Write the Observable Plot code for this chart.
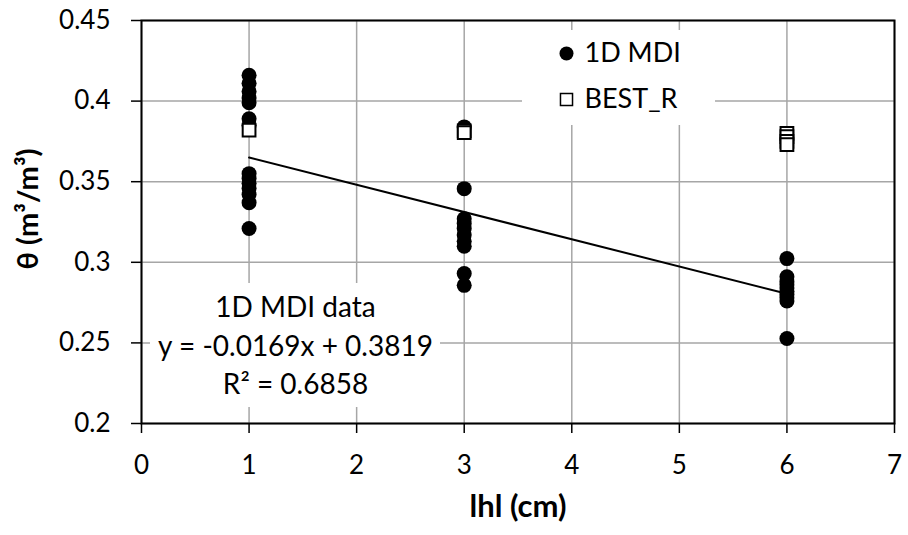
<!DOCTYPE html>
<html>
<head>
<meta charset="utf-8">
<script src="https://cdn.jsdelivr.net/npm/d3@7"></script>
<script src="https://cdn.jsdelivr.net/npm/@observablehq/plot@0.6"></script>
<style>
  html, body { margin: 0; padding: 0; background: #fff; }
  #chart { width: 908px; height: 535px; }
</style>
</head>
<body>
<div id="chart"></div>
<script>
// ---- data ----
const mdiX = [1,1,1,1,1,1,1,1,1,1,1,1,1,1,
              3,3,3,3,3,3,3,3,3,3,
              6,6,6,6,6,6,6,6,6,6];
const mdiY = [0.416,0.411,0.406,0.402,0.399,0.389,0.385,0.355,0.352,0.349,0.346,0.342,0.337,0.321,
              0.384,0.3457,0.327,0.324,0.321,0.317,0.313,0.310,0.293,0.2857,
              0.3023,0.291,0.288,0.286,0.284,0.282,0.280,0.278,0.276,0.2527];
const bestX = [1,3,3,6,6,6,6];
const bestY = [0.382,0.3815,0.3805,0.380,0.378,0.375,0.373];
const trendSlope = -0.0169;
const trendIntercept = 0.3819;
const trendRange = [1, 6];
const xTicks = [0,1,2,3,4,5,6,7];
const yTicks = [0.2,0.25,0.3,0.35,0.4,0.45];
const xTitle = "lhl (cm)";
const yTitle = "θ (m³/m³)";
const legendLabels = ["1D MDI", "BEST_R"];
const annotLines = ["1D MDI data", "y = -0.0169x + 0.3819", "R² = 0.6858"];

const mdi = mdiX.map((x, i) => ({x, y: mdiY[i]}));
const best = bestX.map((x, i) => ({x, y: bestY[i]}));
const trend = trendRange.map(x => ({x, y: trendIntercept + trendSlope * x}));

const FONT = "Lato, 'Open Sans', sans-serif";

// white label backgrounds (frame-relative pixel boxes: [x0, y0, x1, y1])
const bgBoxes = [[381, 10, 574, 105], [9, 263, 299, 387]];
function whiteBoxes(...args) {
  const dims = args.find(a => a && typeof a === "object" && "marginLeft" in a && "width" in a) || {marginLeft: 141, marginTop: 20};
  const g = document.createElementNS("http://www.w3.org/2000/svg", "g");
  for (const [x0, y0, x1, y1] of bgBoxes) {
    const r = document.createElementNS("http://www.w3.org/2000/svg", "rect");
    r.setAttribute("x", dims.marginLeft + x0);
    r.setAttribute("y", dims.marginTop + y0);
    r.setAttribute("width", x1 - x0);
    r.setAttribute("height", y1 - y0);
    r.setAttribute("fill", "#fff");
    g.appendChild(r);
  }
  return g;
}

const chart = Plot.plot({
  width: 908,
  height: 535,
  marginLeft: 141,
  marginRight: 14,
  marginTop: 20,
  marginBottom: 112,
  style: {fontFamily: FONT, fontSize: "26px", color: "#000", background: "#fff", overflow: "visible"},
  x: {domain: [0, 7]},
  y: {domain: [0.2, 0.45]},
  marks: [
    Plot.gridX(xTicks, {stroke: "#a6a6a6", strokeOpacity: 1, strokeWidth: 1.5}),
    Plot.gridY(yTicks, {stroke: "#a6a6a6", strokeOpacity: 1, strokeWidth: 1.5}),
    whiteBoxes,
    Plot.axisX(xTicks, {tickSize: 10, tickPadding: 22, stroke: "#000", strokeWidth: 1.5, label: null, tickFormat: d => String(d), fontSize: 26}),
    Plot.axisY(yTicks, {tickSize: 10, tickPadding: 21, stroke: "#000", strokeWidth: 1.5, label: null, tickFormat: d => String(d), fontSize: 26}),
    Plot.line(trend, {x: "x", y: "y", stroke: "#000", strokeWidth: 2}),
    Plot.dot(mdi, {x: "x", y: "y", r: 7.5, fill: "#000", stroke: "none"}),
    Plot.dot(best, {x: "x", y: "y", symbol: "square", r: 7.2, fill: "#fff", stroke: "#000", strokeWidth: 2}),
    // annotation
    Plot.text([annotLines.join("\n")], {frameAnchor: "top-left", dx: 154, dy: 323, textAnchor: "middle", lineAnchor: "middle", lineHeight: 1.375, fontSize: 28, fill: "#000"}),
    // legend
    Plot.dot([legendLabels[0]], {frameAnchor: "top-left", dx: 425, dy: 33, r: 7, fill: "#000"}),
    Plot.dot([legendLabels[1]], {frameAnchor: "top-left", dx: 425, dy: 79, symbol: "square", r: 6.8, fill: "#fff", stroke: "#000", strokeWidth: 1.5}),
    Plot.text([legendLabels[0]], {frameAnchor: "top-left", dx: 443, dy: 33, textAnchor: "start", lineAnchor: "middle", fontSize: 27, fill: "#000"}),
    Plot.text([legendLabels[1]], {frameAnchor: "top-left", dx: 443, dy: 79, textAnchor: "start", lineAnchor: "middle", fontSize: 27, fill: "#000"}),
    // axis titles
    Plot.text([xTitle], {frameAnchor: "bottom", dy: 84, lineAnchor: "middle", fontWeight: "bold", fontSize: 31, fill: "#000"}),
    Plot.text([yTitle], {frameAnchor: "left", dx: -113, dy: -13, rotate: -90, textAnchor: "middle", lineAnchor: "middle", fontWeight: "bold", fontSize: 29, fill: "#000"}),
    Plot.frame({stroke: "#000", strokeWidth: 2})
  ]
});

document.getElementById("chart").appendChild(chart);
</script>
</body>
</html>
